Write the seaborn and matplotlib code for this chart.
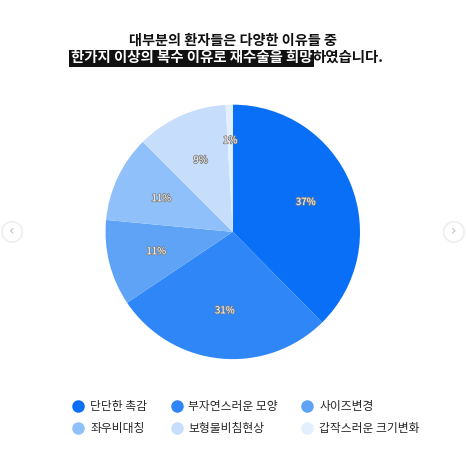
import numpy as np
import pandas as pd
import matplotlib.pyplot as plt
import matplotlib.patheffects as pe
from matplotlib.lines import Line2D
from matplotlib.patches import Circle
import seaborn as sns

sns.set_theme(style='white')
plt.rcParams['font.family'] = ['Noto Sans CJK KR', 'DejaVu Sans']

reasons = ['단단한 촉감', '부자연스러운 모양', '사이즈변경', '좌우비대칭', '보형물비침현상', '갑작스러운 크기변화']
# wedge sizes as drawn in the picture (arcs), and the printed labels
shares = [37.6, 28.0, 10.9, 11.0, 11.6, 0.9]
pct_labels = ['37%', '31%', '11%', '11%', '9%', '1%']
colors = ['#0a6ff7', '#2f86f6', '#5ea3f5', '#8fc0fa', '#c6defc', '#e2effd']

df = pd.DataFrame({'reason': reasons, 'share': shares, 'label': pct_labels, 'color': colors})

fig = plt.figure(figsize=(4.66, 4.61), dpi=100)
ax = fig.add_axes([0.158, 0.152, 0.683, 0.69])

wedges, _ = ax.pie(df.share, colors=df.color, startangle=90, counterclock=False,
                   wedgeprops=dict(linewidth=0))
for w, lab in zip(wedges, df.label):
    mid = np.deg2rad((w.theta1 + w.theta2) / 2)
    r = 0.72 if lab == '1%' else 0.62
    ax.text(r * np.cos(mid), r * np.sin(mid), lab, ha='center', va='center',
            fontsize=7, color='white',
            path_effects=[pe.withStroke(linewidth=1.2, foreground='#808080')])
ax.set_aspect('equal')

# title
fig.text(0.5, 0.912, '대부분의 환자들은 다양한 이유들 중', ha='center', va='center',
         fontsize=10.2, fontweight='bold', color='#111111')
t1 = fig.text(0.152, 0.874, '한가지 이상의 복수 이유로 재수술을 희망', ha='left', va='center',
              fontsize=10.4, fontweight='bold', color='white',
              bbox=dict(facecolor='#111111', edgecolor='none', pad=1.0))
ax.annotate('하였습니다.', xy=(1, 0.5), xycoords=t1, ha='left', va='center',
            fontsize=10.4, fontweight='bold', color='#111111', annotation_clip=False)

# legend
handles = [Line2D([0], [0], marker='o', linestyle='', markersize=8,
                  markerfacecolor=c, markeredgecolor=c) for c in df.color]
order = [0, 3, 1, 4, 2, 5]
fig.legend([handles[i] for i in order], [reasons[i] for i in order], ncol=3,
           loc='center', bbox_to_anchor=(0.528, 0.095), frameon=False,
           fontsize=8.5, handlelength=1.0, handletextpad=0.5,
           columnspacing=2.0, labelspacing=0.75)

# carousel arrows
for x, s in [(0.026, '‹'), (0.974, '›')]:
    fig.patches.append(Circle((x, 0.497), 0.022, transform=fig.transFigure,
                              facecolor='white', edgecolor='#eeeeee', linewidth=1.2))
    fig.text(x, 0.5, s, ha='center', va='center', fontsize=10, color='#bbbbbb',
             family=['DejaVu Sans'])

fig.savefig('out.png', dpi=100, facecolor='white')
